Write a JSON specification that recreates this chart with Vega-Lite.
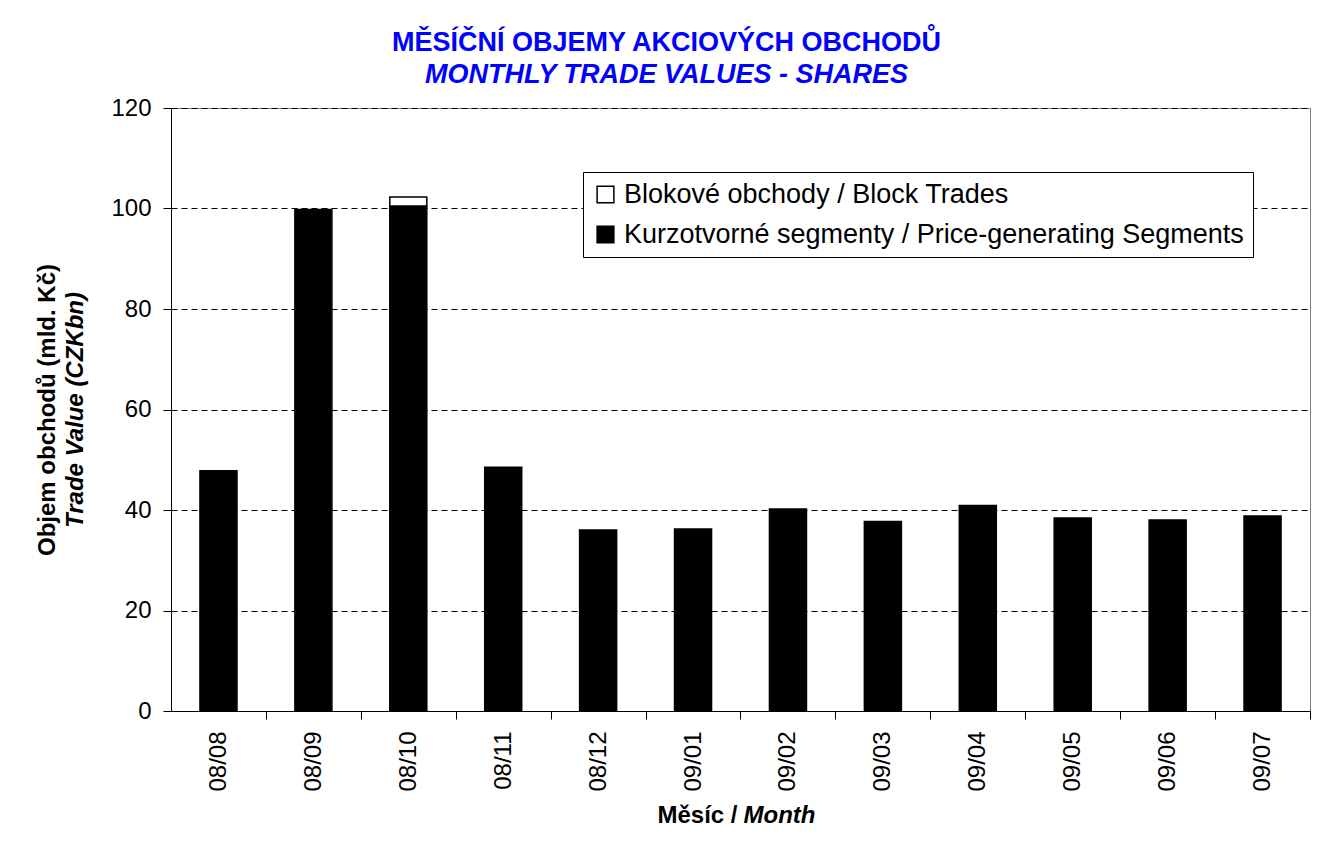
{
  "$schema": "https://vega.github.io/schema/vega-lite/v6.json",
  "autosize": {"type": "none"},
  "width": 1139,
  "height": 603,
  "padding": {"left": 171, "top": 108, "right": 17, "bottom": 132},
  "background": "white",
  "title": {
    "text": "MĚSÍČNÍ OBJEMY AKCIOVÝCH OBCHODŮ",
    "subtitle": "MONTHLY TRADE VALUES - SHARES",
    "frame": "group",
    "anchor": "middle",
    "dx": -74,
    "font": "Liberation Sans",
    "fontSize": 27,
    "fontWeight": "bold",
    "color": "#0000FF",
    "subtitleFont": "Liberation Sans",
    "subtitleFontSize": 27,
    "subtitleFontWeight": "bold",
    "subtitleFontStyle": "italic",
    "subtitleColor": "#0000FF",
    "subtitlePadding": 5,
    "offset": 7
  },
  "data": {
    "values": [
      {"month": "08/08", "segment": "Kurzotvorné segmenty / Price-generating Segments", "value": 47.8},
      {"month": "08/09", "segment": "Kurzotvorné segmenty / Price-generating Segments", "value": 99.8},
      {"month": "08/10", "segment": "Kurzotvorné segmenty / Price-generating Segments", "value": 100.5},
      {"month": "08/10", "segment": "Blokové obchody / Block Trades", "value": 1.8},
      {"month": "08/11", "segment": "Kurzotvorné segmenty / Price-generating Segments", "value": 48.5},
      {"month": "08/12", "segment": "Kurzotvorné segmenty / Price-generating Segments", "value": 36.0},
      {"month": "09/01", "segment": "Kurzotvorné segmenty / Price-generating Segments", "value": 36.2},
      {"month": "09/02", "segment": "Kurzotvorné segmenty / Price-generating Segments", "value": 40.2},
      {"month": "09/03", "segment": "Kurzotvorné segmenty / Price-generating Segments", "value": 37.7},
      {"month": "09/04", "segment": "Kurzotvorné segmenty / Price-generating Segments", "value": 40.9},
      {"month": "09/05", "segment": "Kurzotvorné segmenty / Price-generating Segments", "value": 38.4},
      {"month": "09/06", "segment": "Kurzotvorné segmenty / Price-generating Segments", "value": 38.0},
      {"month": "09/07", "segment": "Kurzotvorné segmenty / Price-generating Segments", "value": 38.8}
    ]
  },
  "layer": [
    {
      "mark": {"type": "bar", "stroke": "black", "strokeWidth": 1.5},
      "encoding": {
        "x": {
          "field": "month",
          "type": "ordinal",
          "scale": {"paddingInner": 0.61, "paddingOuter": 0.305},
          "axis": {
            "orient": "bottom",
            "title": "Měsíc /",
            "titleAlign": "right",
            "titleAnchor": null,
            "titleX": 566,
            "titleY": 104,
            "titleBaseline": "middle",
            "labelAngle": -90,
            "labelAlign": "right",
            "labelBaseline": "middle",
            "labelFont": "Liberation Sans",
            "labelFontSize": 24,
            "labelColor": "black",
            "labelPadding": 12,
            "tickOffset": 47.45,
            "labelOffset": -47.45,
            "tickSize": 8,
            "tickColor": "black",
            "domainColor": "black",
            "titleFont": "Liberation Sans",
            "titleFontSize": 24,
            "titleFontWeight": "bold",
            "titleColor": "black"
          }
        },
        "y": {
          "field": "value",
          "type": "quantitative",
          "stack": "zero",
          "scale": {"domain": [0, 120]},
          "axis": {
            "orient": "left",
            "values": [0, 20, 40, 60, 80, 100, 120],
            "title": "Trade Value (CZKbn)",
            "titleFont": "Liberation Sans",
            "titleFontSize": 24,
            "titleFontWeight": "bold",
            "titleFontStyle": "italic",
            "titleColor": "black",
            "titlePadding": 23,
            "labelFont": "Liberation Sans",
            "labelFontSize": 24,
            "labelColor": "black",
            "labelPadding": 12,
            "tickSize": 8,
            "tickColor": "black",
            "domainColor": "black",
            "grid": true,
            "gridColor": "black",
            "gridDash": [6, 4],
            "gridWidth": 1
          }
        },
        "color": {
          "field": "segment",
          "type": "nominal",
          "scale": {
            "domain": ["Blokové obchody / Block Trades", "Kurzotvorné segmenty / Price-generating Segments"],
            "range": ["white", "black"]
          },
          "legend": {
            "title": null,
            "orient": "none",
            "legendX": 412,
            "legendY": 64,
            "strokeColor": "black",
            "fillColor": "white",
            "padding": 9,
            "symbolType": "square",
            "symbolSize": 280,
            "symbolStrokeColor": "black",
            "symbolStrokeWidth": 1.5,
            "labelFont": "Liberation Sans",
            "labelFontSize": 27,
            "labelColor": "black",
            "labelLimit": 1000,
            "labelOffset": 5,
            "rowPadding": 12
          }
        },
        "order": {"field": "segment", "sort": "descending"}
      }
    },
    {
      "mark": {"type": "bar", "opacity": 0},
      "encoding": {
        "x": {
          "field": "month",
          "type": "ordinal",
          "axis": {
            "orient": "bottom",
            "title": "Month",
            "titleAlign": "left",
            "titleAnchor": null,
            "titleX": 572,
            "titleY": 104,
            "titleBaseline": "middle",
            "titleFont": "Liberation Sans",
            "titleFontSize": 24,
            "titleFontWeight": "bold",
            "titleFontStyle": "italic",
            "titleColor": "black",
            "labels": false,
            "ticks": false,
            "domain": false,
            "grid": false
          }
        },
        "y": {
          "field": "value",
          "type": "quantitative",
          "stack": "zero",
          "scale": {"domain": [0, 120]},
          "axis": {
            "orient": "left",
            "title": "Objem obchodů (mld. Kč)",
            "titleFont": "Liberation Sans",
            "titleFontSize": 24,
            "titleFontWeight": "bold",
            "titleColor": "black",
            "titlePadding": 112,
            "labels": false,
            "ticks": false,
            "domain": false,
            "grid": false
          }
        }
      }
    }
  ],
  "resolve": {"axis": {"y": "independent", "x": "independent"}},
  "config": {
    "view": {"stroke": "#808080", "strokeWidth": 1},
    "font": "Liberation Sans"
  }
}
